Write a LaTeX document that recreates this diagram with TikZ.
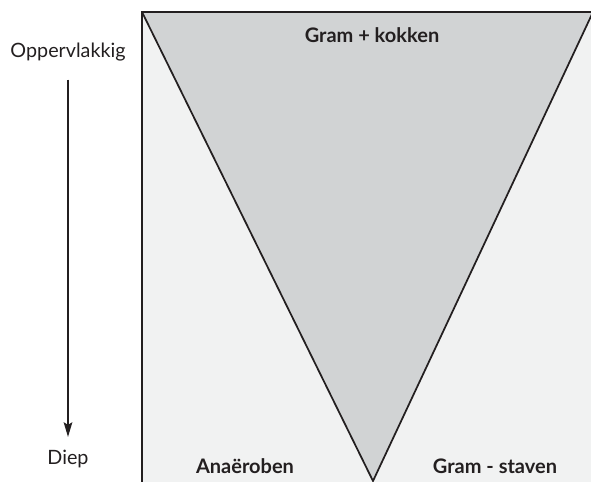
\documentclass[tikz,border=0pt]{standalone}
\usepackage{fontspec}
\setmainfont{Lato}
\usetikzlibrary{arrows.meta}
\definecolor{lijn}{HTML}{231F20}
\definecolor{vlak}{HTML}{F1F2F2}
\definecolor{grijs}{HTML}{D1D3D4}
\tikzset{
  diepte/.style={anchor=base,text=lijn,font=\fontsize{14.8}{17}\selectfont},
  groep/.style={anchor=base,text=lijn,font=\bfseries\fontsize{15}{17}\selectfont},
  rand/.style={lijn,line width=1.3pt,line join=miter},
}
\begin{document}
\begin{tikzpicture}[x=0.75pt,y=-0.75pt]
    \useasboundingbox (0,0) rectangle (591,481);
    \coordinate (A) at (142,12);
    \coordinate (B) at (593,12);
    \coordinate (C) at (373,481);
    \coordinate (D) at (593,483);
    \coordinate (E) at (142,483);
    \fill[vlak] (A) rectangle (D);
    \fill[grijs] (A) -- (B) -- (C) -- cycle;
    \draw[rand] (A) -- (C) -- (B);
    \draw[rand] (E) -- (A) -- (B);
    \node[groep] (kokken) at (372,43) {Gram + kokken};
    \node[groep] (anaer) at (245,473) {Anaëroben};
    \node[groep] (staven) at (495,473) {Gram - staven};
    \node[diepte] (opp) at (68,58) {Oppervlakkig};
    \node[diepte] (diep) at (68,464) {Diep};
    \draw[lijn,line width=1pt,-{Stealth[length=11pt,width=6.5pt,inset=2pt]},
      shorten <=10pt,shorten >=6pt] (opp) -- (diep);
  \end{tikzpicture}
\end{document}
